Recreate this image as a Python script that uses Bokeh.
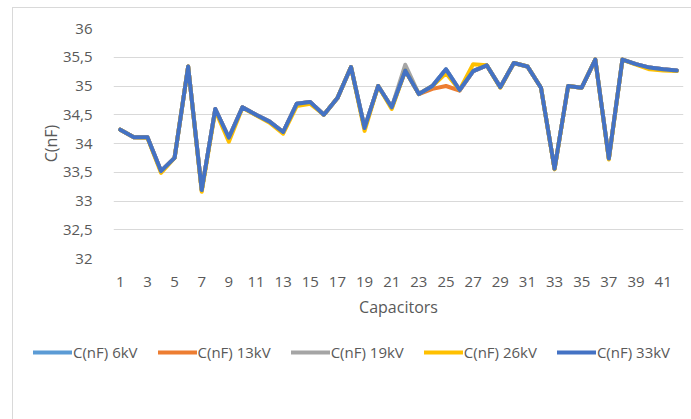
from bokeh.plotting import figure
from bokeh.models import FixedTicker, Legend, LegendItem
from bokeh.layouts import column
from bokeh.embed import file_html
from bokeh.resources import INLINE

capacitors = list(range(1, 43))

c_6kv = [34.24, 34.11, 34.11, 33.52, 33.75, 35.34, 33.19, 34.60, 34.10, 34.63,
         34.50, 34.38, 34.20, 34.69, 34.72, 34.50, 34.79, 35.33, 34.27, 35.00,
         34.63, 35.27, 34.86, 35.00, 35.29, 34.93, 35.26, 35.36, 34.98, 35.40,
         35.34, 34.97, 33.56, 35.00, 34.97, 35.46, 33.74, 35.46, 35.38, 35.32,
         35.29, 35.27]
c_13kv = [34.24, 34.11, 34.11, 33.52, 33.75, 35.34, 33.19, 34.60, 34.10, 34.63,
          34.50, 34.38, 34.20, 34.69, 34.72, 34.50, 34.79, 35.33, 34.27, 35.00,
          34.63, 35.27, 34.86, 34.95, 35.00, 34.92, 35.26, 35.36, 34.98, 35.40,
          35.34, 34.97, 33.56, 35.00, 34.97, 35.46, 33.74, 35.46, 35.38, 35.32,
          35.29, 35.27]
c_19kv = [34.24, 34.11, 34.11, 33.52, 33.75, 35.34, 33.19, 34.60, 34.10, 34.63,
          34.50, 34.38, 34.20, 34.69, 34.72, 34.50, 34.79, 35.33, 34.27, 35.00,
          34.63, 35.37, 34.86, 35.00, 35.29, 34.93, 35.26, 35.36, 34.98, 35.40,
          35.34, 34.97, 33.56, 35.00, 34.97, 35.46, 33.74, 35.46, 35.38, 35.32,
          35.29, 35.27]
c_26kv = [34.24, 34.11, 34.10, 33.49, 33.75, 35.34, 33.16, 34.57, 34.03, 34.62,
          34.49, 34.36, 34.17, 34.65, 34.69, 34.50, 34.79, 35.33, 34.22, 35.00,
          34.60, 35.27, 34.86, 35.00, 35.22, 34.93, 35.38, 35.36, 34.97, 35.40,
          35.34, 34.97, 33.55, 35.00, 34.97, 35.46, 33.72, 35.46, 35.37, 35.29,
          35.27, 35.26]
c_33kv = [34.24, 34.11, 34.11, 33.52, 33.75, 35.34, 33.19, 34.60, 34.10, 34.63,
          34.50, 34.38, 34.20, 34.69, 34.72, 34.50, 34.79, 35.33, 34.27, 35.00,
          34.63, 35.27, 34.86, 35.00, 35.29, 34.93, 35.26, 35.36, 34.98, 35.40,
          35.34, 34.97, 33.56, 35.00, 34.97, 35.46, 33.74, 35.46, 35.38, 35.32,
          35.29, 35.27]

series_names = ["C(nF) 6kV", "C(nF) 13kV", "C(nF) 19kV", "C(nF) 26kV", "C(nF) 33kV"]
series_values = [c_6kv, c_13kv, c_19kv, c_26kv, c_33kv]
series_colors = ["#5B9BD5", "#ED7D31", "#A5A5A5", "#FFC000", "#4472C4"]

x_ticks = list(range(1, 43, 2))
y_ticks = [32, 32.5, 33, 33.5, 34, 34.5, 35, 35.5, 36]
y_tick_labels = ["32", "32,5", "33", "33,5", "34", "34,5", "35", "35,5", "36"]

FONT = "Open Sans"
TXT = "#595959"

p = figure(width=678, height=330, output_backend="svg", toolbar_location=None,
           x_range=(0.5, 42.5), y_range=(32, 36),
           min_border_left=100, min_border_right=8, min_border_top=20,
           min_border_bottom=80)
p.frame_align = False
p.outline_line_color = None
p.background_fill_color = "white"
p.border_fill_color = "white"

for name, vals, col in zip(series_names, series_values, series_colors):
    p.line(capacitors, vals, line_color=col, line_width=4, line_join="round",
           line_cap="round")

p.xgrid.grid_line_color = None
p.ygrid.grid_line_color = "#d9d9d9"
p.ygrid.grid_line_width = 1

p.xaxis.ticker = FixedTicker(ticks=x_ticks)
p.yaxis.ticker = FixedTicker(ticks=y_ticks)
p.yaxis.major_label_overrides = dict(zip(y_ticks, y_tick_labels))

for ax in (p.xaxis[0], p.yaxis[0]):
    ax.axis_line_color = None
    ax.major_tick_line_color = None
    ax.minor_tick_line_color = None
    ax.major_label_text_font = FONT
    ax.major_label_text_font_size = "15px"
    ax.major_label_text_color = TXT
    ax.axis_label_text_font = FONT
    ax.axis_label_text_font_size = "16px"
    ax.axis_label_text_color = TXT
    ax.axis_label_text_font_style = "normal"

p.xaxis.axis_label = "Capacitors"
p.yaxis.axis_label = "C(nF)"
p.xaxis.major_label_standoff = 12
p.xaxis.axis_label_standoff = 6
p.yaxis.major_label_standoff = 15
p.yaxis.axis_label_standoff = -2

# legend strip below the chart
pl = figure(width=678, height=81, output_backend="svg", toolbar_location=None,
            x_axis_type=None, y_axis_type=None, x_range=(0, 1), y_range=(0, 1),
            min_border=0)
pl.frame_align = False
pl.outline_line_color = None
pl.grid.visible = False
pl.background_fill_color = "white"
pl.border_fill_color = "white"

items = []
for name, col in zip(series_names, series_colors):
    # placeholder renderers outside the visible range, only for the legend keys
    r = pl.line([5, 6], [5, 6], line_color=col, line_width=4, line_cap="round")
    items.append(LegendItem(label=name, renderers=[r]))

lg = Legend(items=items, orientation="horizontal", location=(20, 57))
lg.label_text_font = FONT
lg.label_text_font_size = "15px"
lg.label_text_color = TXT
lg.glyph_width = 39
lg.label_standoff = 1
lg.spacing = 20
lg.padding = 0
lg.margin = 0
lg.border_line_color = None
lg.background_fill_alpha = 0
pl.add_layout(lg)

layout = column(p, pl, spacing=0)
layout.styles = {"border-left": "1px solid #d9d9d9", "border-top": "1px solid #d9d9d9",
                 "margin-left": "12px", "margin-top": "7px"}

open("out.html", "w").write(file_html(layout, INLINE))
